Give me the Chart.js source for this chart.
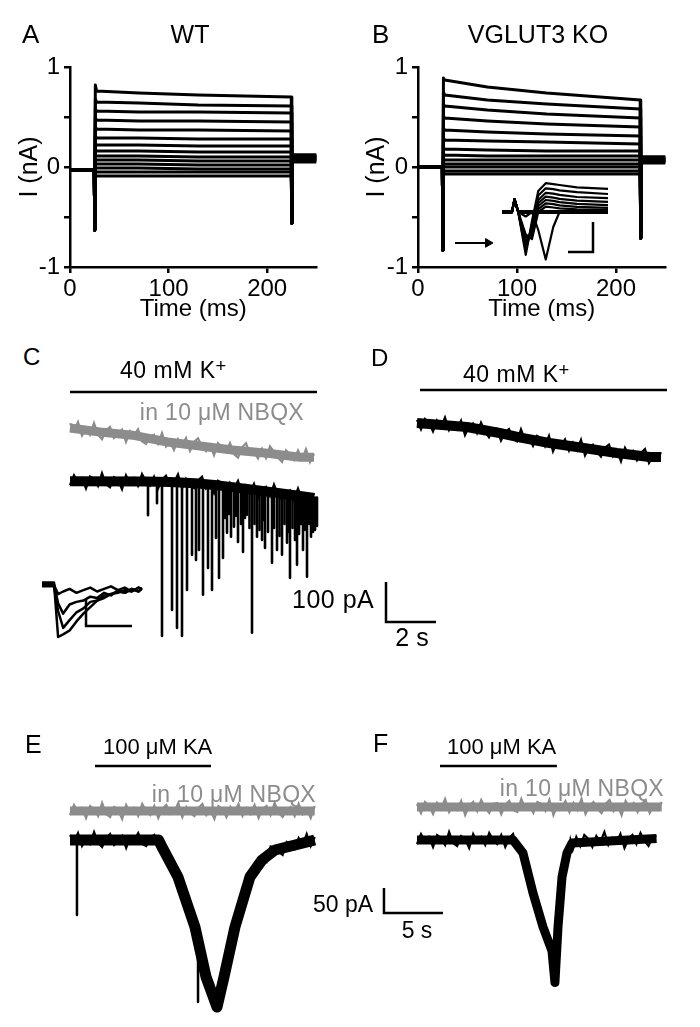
<!DOCTYPE html>
<html><head><meta charset="utf-8">
<script src="https://cdn.jsdelivr.net/npm/chart.js@4.4.1/dist/chart.umd.min.js"></script>
<style>
html,body{margin:0;padding:0;background:#fff;}
#fig{position:relative;width:700px;height:1027px;overflow:hidden;background:#fff;font-family:"Liberation Sans",Arial,sans-serif;}
#fig canvas{position:absolute;}
.t{position:absolute;white-space:nowrap;line-height:1;color:#000;z-index:5;}
.sup{font-size:0.8em;position:relative;top:-0.3em;}
</style></head><body><div id="fig"></div>
<script>
// ================= DATA =================
// ---- Panels A/B: voltage-step current families (I in nA, time in ms) ----
const protoT = [0, 24.6, 25.1, 25.7, 27, 70, 130, 224.4, 225.0, 225.6, 250];
const xTicksAB = [0, 100, 200];
const yTicksAB = [-1, -0.5, 0, 0.5, 1];

// A (WT)
const aPeak   = [0.82,0.68,0.58,0.49,0.40,0.31,0.23,0.17,0.12,0.08,0.04,0.00,-0.04,-0.08];
const aStart  = [0.76,0.65,0.56,0.47,0.38,0.29,0.22,0.16,0.11,0.07,0.03,-0.01,-0.05,-0.09];
const aMid70  = [0.74,0.64,0.55,0.46,0.37,0.29,0.22,0.16,0.11,0.07,0.03,-0.01,-0.05,-0.09];
const aMid130 = [0.72,0.62,0.55,0.46,0.37,0.28,0.21,0.15,0.10,0.06,0.02,-0.02,-0.05,-0.09];
const aEnd    = [0.70,0.61,0.54,0.45,0.36,0.28,0.21,0.15,0.10,0.06,0.02,-0.02,-0.05,-0.09];
const aTail   = [0.12,0.12,0.11,0.11,0.10,0.10,0.09,0.09,0.08,0.08,0.07,0.07,0.06,0.05];
const aHold = -0.03, aCapOn = -0.63, aCapOff = -0.56;

// B (VGLUT3 KO)
const bPeak   = [0.89,0.75,0.63,0.51,0.39,0.29,0.19,0.13,0.08,0.04,0.01,-0.03,-0.06];
const bStart  = [0.87,0.72,0.61,0.49,0.37,0.27,0.18,0.12,0.07,0.03,0.00,-0.04,-0.07];
const bMid70  = [0.80,0.67,0.57,0.46,0.35,0.26,0.17,0.11,0.07,0.03,0.00,-0.04,-0.07];
const bMid130 = [0.74,0.63,0.53,0.43,0.33,0.25,0.16,0.11,0.07,0.03,0.00,-0.04,-0.07];
const bEnd    = [0.67,0.58,0.49,0.40,0.31,0.23,0.16,0.11,0.07,0.03,0.00,-0.04,-0.07];
const bTail   = [0.10,0.10,0.09,0.09,0.08,0.08,0.07,0.07,0.06,0.06,0.05,0.05,0.04];
const bHold = 0.0, bCapOn = -0.83, bCapOff = -0.71;

// B inset (ms, nA)
const insetBT = [0, 0.4, 0.5, 0.65, 0.95, 1.2, 1.45, 1.75, 2.05, 2.3, 3.0, 4.24];
const insetBSweep1 = [0, 0, 0.43, 0, -1.43, -0.3, 0.70, 0.96, 0.93, 0.90, 0.82, 0.77];
const insetBSweep2 = [0, 0, 0.43, 0, -1.30, -0.4, 0.55, 0.79, 0.76, 0.72, 0.66, 0.60];
const insetBSweep3 = [0, 0, 0.43, 0, -1.20, -0.5, 0.40, 0.64, 0.61, 0.57, 0.50, 0.46];
const insetBSweep4 = [0, 0, 0.43, 0, -1.05, -0.6, 0.30, 0.51, 0.48, 0.44, 0.38, 0.34];
const insetBSweep5 = [0, 0, 0.43, 0, -0.95, -0.7, 0.20, 0.40, 0.37, 0.33, 0.27, 0.23];
const insetBSweep6 = [0, 0, 0.43, 0, -0.85, -0.8, 0.10, 0.29, 0.26, 0.22, 0.17, 0.14];
const insetBSweep7 = [0, 0, 0.43, 0, -0.75, -0.9, 0.00, 0.18, 0.15, 0.12, 0.09, 0.07];
const insetBSweep8 = [0, 0, 0.43, 0, -0.15, 0.0, -0.6, -1.58, -0.5, 0.0, 0.0, 0.0];
const insetBSweep9 = [0.03, 0.03, 0.43, 0.03, 0.03, 0.03, 0.03, 0.03, 0.03, 0.03, 0.03, 0.03];
const insetBSweep10 = [-0.03, -0.03, 0.40, -0.03, -0.03, -0.03, -0.03, -0.03, -0.03, -0.03, -0.03, -0.03];
const insetBArrowT = [-1.88, -0.56], insetBArrowV = -1.03;
const insetBBarT = [3.64, 3.64, 2.64], insetBBarV = [-0.33, -1.33, -1.33];   // 1 nA, 1 ms

// ---- Panel C: 40 mM K+ (time in s, current in pA, display offsets) ----
const cDt = 0.16;
const kBarCT = [0, 9.88], kBarCLevel = 220;
const cGrayTrendT = [0, 1.2, 2.5, 3.9, 5.2, 6.5, 7.9, 9.2, 9.76];
const cGrayTrendV = [130, 120, 112, 95, 85, 75, 67, 57, 57];
const cGray = [142,124,145,111,127,113,142,113,102,124,133,105,115,126,95,122,111,127,97,90,
  108,113,91,117,84,96,75,102,86,105,73,95,104,83,72,88,62,92,81,70,
  92,65,56,81,92,66,70,54,78,55,84,70,56,45,74,63,50,74,52,77,45,65];
const cBlackTrendT = [0, 3.0, 4.0, 5.0, 6.0, 7.0, 8.0, 9.0, 9.76];
const cBlackTrendV = [-3, -4, -5, -8, -14, -22, -30, -38, -45];
const cBlack = [-13,12,-5,5,-21,9,2,-15,17,-11,-18,7,-1,-23,12,-8,5,-15,15,-4,
  -14,8,-22,1,11,-13,-7,14,-21,3,-12,-20,-1,8,-21,-10,-33,-2,-10,-31,
  -7,-21,-2,-33,-14,-32,-10,-44,-22,-17,-40,-11,-38,-49,-33,-26,-50,-21,-48,-37,-61,-33];
const evTC = [3.12,3.48,3.68,4.08,4.28,4.48,4.68,4.88,5.04,5.16,5.32,5.52,5.68,5.84,5.96,6.12,6.28,6.44,6.56,6.72,
  6.92,7.08,7.28,7.48,7.68,7.80,8.08,8.28,8.48,8.68,8.80,9.00,9.08,9.32,9.48,9.64,9.80];
const evBaseC = [-5,-5,-5,-8,-8,-8,-8,-8,-14,-14,-14,-14,-14,-14,-14,-22,-22,-22,-22,-22,
  -22,-30,-30,-30,-30,-30,-38,-38,-38,-38,-38,-44,-44,-44,-44,-44,-44];
const evPeakC = [-88,-58,-390,-325,-370,-390,-275,-187,-200,-175,-287,-220,-275,-145,-245,-195,-132,-142,-117,-155,
  -180,-87,-382,-142,-150,-170,-207,-175,-187,-157,-245,-150,-212,-175,-242,-142,-125];
const minorTC = [6.2,6.36,6.64,6.84,7.0,7.18,7.38,7.58,7.74,7.92,8.16,8.38,8.58,8.74,8.9,9.16,9.24,9.4,9.56,9.72,9.88];
const minorBaseC = [-22,-22,-22,-22,-22,-30,-30,-30,-30,-30,-38,-38,-38,-38,-38,-44,-44,-44,-44,-44,-44];
const minorPeakC = [-95,-85,-90,-110,-95,-120,-110,-125,-100,-130,-120,-140,-110,-130,-120,-135,-110,-125,-110,-130,-115];
// C inset (ms, pA)
const insetCT = [0, 2.6, 3.5, 4.6, 6, 7.5, 9, 10.5, 12, 13.5, 15, 16.5, 18, 19.5, 21, 21.7];
const insetC1 = [0, 0, -7, -5, -3, -6, -4, -2, -5, -3, -1, -4, -2, -5, -2, -3];
const insetC2 = [1, 1, -14, -22, -15, -13, -12, -9, -10, -6, -8, -4, -6, -3, -5, -2];
const insetC3 = [-1, -1, -20, -33, -27, -21, -18, -13, -12, -8, -7, -5, -6, -3, -5, -3];
const insetC4 = [2, 2, -40, -38, -35, -28, -22, -17, -12, -10, -7, -6, -4, -5, -2, -4];
const insetCBarT = [9.57, 9.57, 19.57], insetCBarV = [-11.5, -31.5, -31.5];   // 20 pA, 10 ms

// ---- Panel D ----
const dDt = 0.16;
const kBarDT = [0.12, 10.0], kBarDLevel = 82.5;
const dTrendT = [0, 2, 3.3, 4.2, 5.3, 6.6, 8, 9.3, 9.76];
const dTrendV = [0, -10, -25, -37, -50, -62, -75, -85, -85];
const dTrace = [8,-16,10,0,-21,6,-10,14,-18,-2,-16,6,-30,-9,-1,-25,1,-21,-36,-15,
  -14,-44,-23,-15,-40,-46,-16,-43,-38,-57,-32,-38,-58,-32,-71,-48,-56,-41,-69,-49,
  -68,-42,-81,-62,-54,-72,-84,-62,-54,-83,-70,-96,-62,-80,-70,-93,-74,-65,-100,-83,-93,-73];
const scaleCDT = [-1.24, -1.24, 0.76], scaleCDV = [-397.5, -497.5, -497.5];   // 100 pA, 2 s

// ---- Panel E: 100 µM KA ----
const eDt = 0.34;
const kaBarET = [2.12, 11.95], kaBarLevel = 148;
const eGrayTrendT = [0, 20.74], eGrayTrendV = [58, 58];
const eGray = [50,70,56,64,44,68,62,48,74,52,46,66,60,42,70,54,64,48,72,58,
  50,68,44,62,70,52,56,74,46,66,54,48,64,72,50,60,42,68,62,46,
  66,56,72,48,64,52,70,44,62,68,50,74,54,46,60,66,48,72,52,62,44,68];
const eBlackTrendT = [0, 7.5, 7.8, 9.15, 10.59, 11.53, 12.46, 13.05, 13.98, 15.25, 16.27, 17.37, 19.75, 20.74];
const eBlackTrendV = [0, 0, -14, -74, -174, -274, -334, -274, -174, -74, -40, -20, -6, 0];
const eBlack = [10,-4,14,-12,2,-8,16,-6,-14,4,12,-10,-2,8,-16,6,0,14,-8,-12,
  4,10,-6,1,-40,-43,-74,-68,-104,-112,-159,-165,-191,-243,-286,-294,-336,-312,-285,-257,
  -203,-186,-164,-118,-81,-76,-61,-62,-31,-43,-13,-16,-24,-30,-4,-10,-18,4,-10,12,-12,6];
const eSpikeT = [0.59, 10.85], eSpikeBase = [0, -190], eSpikePeak = [-150, -324];

// ---- Panel F ----
const kaBarFT = [1.95, 11.86];
const fGrayTrendT = [0, 20.74], fGrayTrendV = [66, 66];
const fGray = [72,54,76,68,52,74,62,82,56,70,60,78,50,68,76,58,80,64,54,72,
  74,52,70,78,60,56,82,62,68,54,76,72,58,80,50,70,64,78,56,74,
  60,82,52,68,76,62,54,72,80,58,70,50,78,64,74,56,72,80,54,68,60,76];
const fBlackTrendT = [0, 8.14, 8.98, 9.83, 10.68, 11.44, 11.69, 11.95, 12.29, 12.71, 13.14, 20.3];
const fBlackTrendV = [0, 0, -26, -106, -174, -222, -285, -174, -74, -26, -6, 3];
const fBlackT = [0,0.34,0.68,1.02,1.36,1.7,2.04,2.38,2.72,3.06,3.4,3.74,4.08,4.42,4.76,5.1,5.44,5.78,6.12,6.46,6.8,7.14,7.48,7.82,
  8.14,8.5,8.82,9.14,9.46,9.78,10.1,10.42,10.74,11.06,11.3,11.5,11.62,11.69,11.76,11.86,11.98,12.12,12.29,12.46,12.64,12.82,13.0,13.2,
  13.5,13.84,14.18,14.52,14.86,15.2,15.54,15.88,16.22,16.56,16.9,17.24,17.58,17.92,18.26,18.6,18.94,19.28,19.62,19.96,20.3];
const fBlackV = [-8,12,-2,6,-14,10,4,-10,16,-6,-12,8,2,-16,12,-4,6,-10,14,0,-8,10,-14,4,
  12,-16,-23,-24,-82,-93,-131,-163,-171,-181,-221,-233,-266,-285,-246,-217,-162,-127,-60,-60,-27,-26,0,-19,
  6,-12,10,2,-14,8,-4,16,-10,4,-6,12,-16,2,10,-8,14,-2,-12,6,8];
const scaleEFT = [-2.8, -2.8, 2.2], scaleEFV = [-96, -146, -146];   // 50 pA, 5 s

// ---- Text ----
const GRAY = '#8c8c8c';
const textLabels = [
  ['A', 22, 43, 'left', 26], ['WT', 190, 43, 'center', 25],
  ['B', 372, 43, 'left', 26], ['VGLUT3 KO', 538, 43, 'center', 25],
  ['C', 23, 365, 'left', 24], ['40 mM K<span class="sup">+</span>', 120, 378, 'left', 23, '#000', 0.5],
  ['in 10 μM NBQX', 304, 420, 'right', 23, GRAY, 0.3],
  ['D', 371, 366, 'left', 24], ['40 mM K<span class="sup">+</span>', 463, 382, 'left', 23, '#000', 0.5],
  ['100 pA', 292, 608, 'left', 25, '#000', 0.5], ['2 s', 412, 646, 'center', 25],
  ['E', 25, 753, 'left', 25], ['100 μM KA', 103, 755, 'left', 22],
  ['in 10 μM NBQX', 316, 802, 'right', 23, GRAY, 0.3],
  ['F', 373, 752, 'left', 25], ['100 μM KA', 447, 755, 'left', 22],
  ['in 10 μM NBQX', 664, 796, 'right', 23, GRAY, 0.3],
  ['50 pA', 313, 912, 'left', 23], ['5 s', 417, 938, 'center', 23]
];

// ================= DRAWING =================
const fig = document.getElementById('fig');
Chart.defaults.font.family = '"Liberation Sans", Arial, sans-serif';
Chart.defaults.color = '#000';

function makeCanvas(r) {
  const c = document.createElement('canvas');
  c.width = r.w; c.height = r.h;
  c.style.left = r.x + 'px'; c.style.top = r.y + 'px';
  c.style.width = r.w + 'px'; c.style.height = r.h + 'px';
  fig.appendChild(c);
  return c;
}
const baseOpts = {
  responsive: false, animation: false, devicePixelRatio: 1, events: [],
  plugins: { legend: { display: false }, tooltip: { enabled: false } },
  elements: { point: { radius: 0 }, line: { tension: 0, borderJoinStyle: 'round', borderCapStyle: 'butt' } }
};
const line = (pts, color, w, extra) => Object.assign({ data: pts, borderColor: color, borderWidth: w,
  pointRadius: 0, fill: false, spanGaps: false }, extra || {});
const sampled = (vals, dt) => vals.map((v, i) => ({ x: i * dt, y: v }));
const paired = (ts, vs) => ts.map((t, i) => ({ x: t, y: Array.isArray(vs) ? vs[i] : vs }));
const events = (ts, base, peak) => ts.flatMap((t, i) => [{ x: t, y: base[i] }, { x: t, y: peak[i] }, { x: t, y: null }]);
const hidden = (axis, min, max) => ({ type: 'linear', axis, display: false, min, max });
const sweep = (hold, capOn, peak, start, m70, m130, end, capOff, tail) =>
  [hold, hold, capOn, peak, start, m70, m130, end, capOff, tail, tail];
// a recorded noisy trace: solid core band + the sampled noise on top
const noisy = (trendT, trendV, pts, color, band) => [
  line(paired(trendT, trendV), color, band),
  line(pts, color, 2.2, { borderJoinStyle: 'miter' })
];

function familyChart(rect, yAxisW, padRight, titleX, sweeps, extraSets, extraScales) {
  const sets = sweeps.map(v => line(paired(protoT, v), '#000', 3)).concat(extraSets || []);
  const grid = { display: true, drawOnChartArea: false, drawTicks: true, tickLength: 6, tickWidth: 2.5,
    tickColor: '#000', color: '#000', lineWidth: 2.5 };
  const border = { display: true, color: '#000', width: 2.5 };
  return new Chart(makeCanvas(rect), {
    type: 'line', data: { datasets: sets },
    options: Object.assign({}, baseOpts, {
      layout: { padding: { left: 0, top: 67, right: padRight, bottom: 0 } },
      scales: Object.assign({
        x: { type: 'linear', min: 0, max: 250, afterFit: s => { s.height = 63; },
          afterBuildTicks: s => { s.ticks = xTicksAB.map(v => ({ value: v })); },
          border, grid, ticks: { font: { size: 24 }, color: '#000', padding: 2, maxRotation: 0, autoSkip: false },
          title: { display: true, text: 'Time (ms)', font: { size: 24 }, color: '#000', padding: { top: 0, bottom: 6 } } },
        y: { type: 'linear', min: -1, max: 1, afterFit: s => { s.width = yAxisW; },
          afterBuildTicks: s => { s.ticks = yTicksAB.map(v => ({ value: v })); },
          border, grid, ticks: { font: { size: 24 }, color: '#000', padding: 4, autoSkip: false,
            callback: v => Number.isInteger(v) ? String(v) : '' },
          title: { display: true, text: 'I (nA)', font: { size: 25 }, color: '#000', padding: { top: titleX, bottom: 0 } } }
      }, extraScales || {})
    })
  });
}

// Panel A
familyChart({ x: 0, y: 0, w: 350, h: 330 }, 70, 33.5, 15,
  aStart.map((_, i) => sweep(aHold, aCapOn, aPeak[i], aStart[i], aMid70[i], aMid130[i], aEnd[i], aCapOff, aTail[i])));

// Panel B with inset
const inB = { xAxisID: 'xi', yAxisID: 'yi' };
const insetBSets = [insetBSweep1, insetBSweep2, insetBSweep3, insetBSweep4, insetBSweep5, insetBSweep6,
  insetBSweep7, insetBSweep8, insetBSweep9, insetBSweep10].map(v => line(paired(insetBT, v), '#000', 2.2, inB));
insetBSets.push(line(paired(insetBArrowT, insetBArrowV), '#000', 2, Object.assign({
  pointRadius: [0, 5], pointStyle: 'triangle', pointRotation: 90, pointBackgroundColor: '#000', pointBorderColor: '#000', pointBorderWidth: 1 }, inB)));
insetBSets.push(line(paired(insetBBarT, insetBBarV), '#000', 2.5, Object.assign({ borderJoinStyle: 'miter' }, inB)));
familyChart({ x: 350, y: 0, w: 350, h: 330 }, 68, 34.5, 12,
  bStart.map((_, i) => sweep(bHold, bCapOn, bPeak[i], bStart[i], bMid70[i], bMid130[i], bEnd[i], bCapOff, bTail[i])),
  insetBSets, { xi: hidden('x', -3.36, 6.54), yi: hidden('y', -1.833, 4.833) });

function traceChart(rect, xr, yr, datasets, extraScales) {
  return new Chart(makeCanvas(rect), {
    type: 'line', data: { datasets },
    options: Object.assign({}, baseOpts, {
      layout: { padding: 0 },
      scales: Object.assign({ x: hidden('x', xr[0], xr[1]), y: hidden('y', yr[0], yr[1]) }, extraScales || {})
    })
  });
}

// Panel C
const inC = { xAxisID: 'xi', yAxisID: 'yi' };
traceChart({ x: 0, y: 380, w: 350, h: 280 }, [-2.8, 11.2], [-450, 250], [
  line(paired(kBarCT, kBarCLevel), '#000', 2.5),
  ...noisy(cGrayTrendT, cGrayTrendV, sampled(cGray, cDt), GRAY, 9),
  line(events(evTC, evBaseC, evPeakC), '#000', 2.6),
  line(events(minorTC, minorBaseC, minorPeakC), '#000', 2.6),
  ...noisy(cBlackTrendT, cBlackTrendV, sampled(cBlack, cDt), '#000', 10),
  line(paired(insetCT, insetC1), '#000', 2.5, inC),
  line(paired(insetCT, insetC2), '#000', 2.5, inC),
  line(paired(insetCT, insetC3), '#000', 2.5, inC),
  line(paired(insetCT, insetC4), '#000', 2.5, inC),
  line(paired(insetCBarT, insetCBarV), '#000', 2.5, Object.assign({ borderJoinStyle: 'miter' }, inC))
], { xi: hidden('x', -9.13, 66.96), yi: hidden('y', -57.7, 157.7) });

// Panel D (+ C/D scale bar)
traceChart({ x: 350, y: 380, w: 350, h: 280 }, [-2.68, 11.32], [-592.5, 107.5], [
  line(paired(kBarDT, kBarDLevel), '#000', 2.5),
  ...noisy(dTrendT, dTrendV, sampled(dTrace, dDt), '#000', 10),
  line(paired(scaleCDT, scaleCDV), '#000', 2.5, { borderJoinStyle: 'miter' })
]);

// Panel E
traceChart({ x: 0, y: 660, w: 350, h: 367 }, [-5.932, 23.729], [-374, 360], [
  line(paired(kaBarET, kaBarLevel), '#000', 2.5),
  ...noisy(eGrayTrendT, eGrayTrendV, sampled(eGray, eDt), GRAY, 9),
  line(events(eSpikeT, eSpikeBase, eSpikePeak), '#000', 2.5),
  ...noisy(eBlackTrendT, eBlackTrendV, sampled(eBlack, eDt), '#000', 11)
]);

// Panel F (+ E/F scale bar)
traceChart({ x: 350, y: 660, w: 350, h: 367 }, [-5.678, 23.983], [-374, 360], [
  line(paired(kaBarFT, kaBarLevel), '#000', 2.5),
  ...noisy(fGrayTrendT, fGrayTrendV, sampled(fGray, eDt), GRAY, 9),
  ...noisy(fBlackTrendT, fBlackTrendV, paired(fBlackT, fBlackV), '#000', 9),
  line(paired(scaleEFT, scaleEFV), '#000', 2.5, { borderJoinStyle: 'miter' })
]);

// Text labels
textLabels.forEach(([html, x, base, align, fs, color, ls]) => {
  const d = document.createElement('div');
  d.className = 't';
  d.innerHTML = html;
  d.style.fontSize = fs + 'px';
  d.style.color = color || '#000';
  d.style.letterSpacing = (ls || 0) + 'px';
  d.style.top = (base - 0.8465 * fs) + 'px';
  d.style.left = x + 'px';
  if (align === 'center') d.style.transform = 'translateX(-50%)';
  if (align === 'right') d.style.transform = 'translateX(-100%)';
  fig.appendChild(d);
});
</script></body></html>
